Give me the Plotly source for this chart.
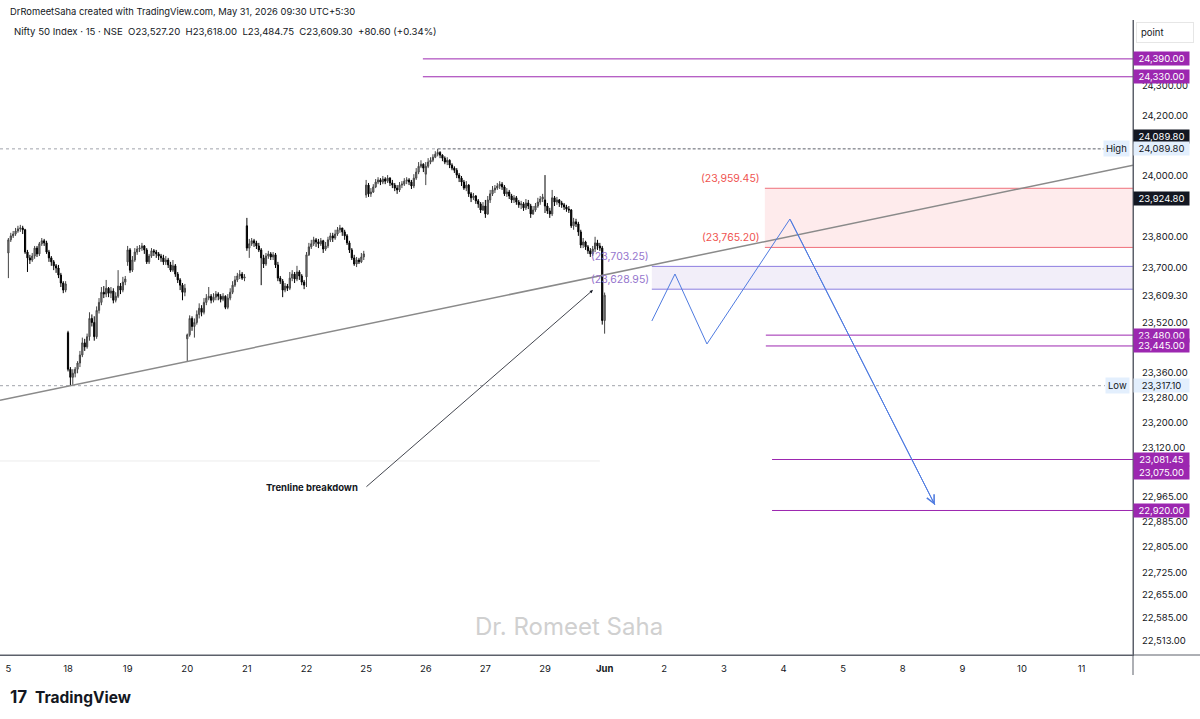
import math
import numpy as np
import plotly.graph_objects as go

# ---------------- DATA (Nifty 50, 15-minute bars) ----------------
day_labels = ["5", "18", "19", "20", "21", "22", "25", "26", "27", "29", "<b>Jun</b>"]
future_labels = ["2", "3", "4", "5", "8", "9", "10", "11"]
BARS_PER_DAY = 25

day_open = [23747, 23488, 23718, 23468, 23836, 23669, 23937, 24006, 23901, 23921, 23527.20]

close_15 = [23790, 23803, 23809, 23819, 23826, 23829, 23823, 23750, 23731, 23724, 23737, 23763, 23744,
            23777, 23787, 23780, 23750, 23731, 23718, 23705, 23698, 23675, 23649, 23626, 23646]
high_15 = [23796, 23813, 23819, 23829, 23836, 23839, 23836, 23826, 23757, 23741, 23747, 23770, 23770,
           23783, 23796, 23793, 23787, 23757, 23737, 23724, 23711, 23708, 23682, 23655, 23655]
low_15 = [23665, 23783, 23796, 23803, 23813, 23816, 23809, 23744, 23685, 23711, 23718, 23728, 23734,
          23737, 23770, 23770, 23744, 23718, 23705, 23691, 23682, 23665, 23636, 23616, 23619]

close_18 = [23370, 23344, 23357, 23370, 23390, 23416, 23455, 23442, 23475, 23534, 23521, 23475, 23560,
            23586, 23619, 23613, 23632, 23616, 23623, 23593, 23606, 23639, 23626, 23652, 23662]
high_18 = [23494, 23377, 23370, 23377, 23396, 23429, 23472, 23468, 23485, 23554, 23547, 23541, 23573,
           23600, 23636, 23639, 23659, 23636, 23636, 23632, 23619, 23691, 23649, 23669, 23672]
low_18 = [23363, 23317.10, 23320, 23344, 23357, 23377, 23409, 23429, 23436, 23462, 23508, 23462, 23468,
          23550, 23577, 23600, 23603, 23603, 23600, 23583, 23586, 23600, 23613, 23619, 23642]

close_19 = [23757, 23691, 23724, 23750, 23760, 23763, 23770, 23757, 23718, 23737, 23754, 23750, 23744,
            23737, 23731, 23718, 23724, 23708, 23691, 23705, 23678, 23659, 23642, 23619, 23632]
high_19 = [23770, 23763, 23737, 23763, 23770, 23773, 23780, 23773, 23763, 23744, 23763, 23760, 23757,
           23750, 23744, 23741, 23737, 23731, 23718, 23724, 23711, 23685, 23665, 23649, 23646]
low_19 = [23705, 23682, 23685, 23718, 23741, 23750, 23754, 23744, 23711, 23711, 23731, 23737, 23731,
          23724, 23718, 23708, 23708, 23698, 23685, 23685, 23669, 23649, 23626, 23593, 23606]

close_20 = [23481, 23534, 23508, 23521, 23547, 23567, 23554, 23586, 23600, 23606, 23593, 23603, 23613,
            23606, 23596, 23606, 23570, 23600, 23619, 23642, 23659, 23672, 23678, 23665, 23669]
high_20 = [23485, 23544, 23541, 23534, 23560, 23583, 23577, 23600, 23613, 23636, 23613, 23616, 23623,
           23619, 23613, 23616, 23609, 23613, 23632, 23655, 23672, 23682, 23691, 23685, 23678]
low_20 = [23396, 23475, 23494, 23472, 23514, 23534, 23541, 23547, 23577, 23593, 23583, 23586, 23593,
          23593, 23586, 23590, 23564, 23564, 23593, 23613, 23636, 23652, 23662, 23659, 23655]

close_21 = [23763, 23777, 23787, 23780, 23770, 23757, 23731, 23711, 23737, 23744, 23734, 23741, 23708,
            23665, 23655, 23626, 23639, 23632, 23665, 23678, 23662, 23685, 23672, 23652, 23642]
high_21 = [23862, 23793, 23796, 23793, 23787, 23780, 23763, 23741, 23747, 23754, 23750, 23750, 23747,
           23718, 23672, 23662, 23649, 23646, 23685, 23691, 23685, 23705, 23691, 23678, 23659]
low_21 = [23754, 23731, 23770, 23767, 23760, 23750, 23642, 23698, 23705, 23728, 23724, 23724, 23698,
          23655, 23646, 23603, 23619, 23623, 23626, 23655, 23649, 23655, 23659, 23642, 23629]

close_22 = [23741, 23767, 23777, 23790, 23783, 23777, 23787, 23760, 23770, 23790, 23803, 23796, 23809,
            23823, 23829, 23816, 23803, 23780, 23757, 23731, 23711, 23724, 23718, 23734, 23744]
high_22 = [23750, 23780, 23790, 23800, 23796, 23793, 23796, 23790, 23783, 23800, 23813, 23813, 23823,
           23832, 23839, 23829, 23823, 23809, 23787, 23763, 23741, 23734, 23731, 23747, 23754]
low_22 = [23636, 23737, 23760, 23770, 23767, 23763, 23770, 23747, 23754, 23763, 23783, 23783, 23790,
          23803, 23813, 23803, 23790, 23773, 23747, 23724, 23705, 23701, 23711, 23714, 23724]

close_25 = [23970, 23941, 23947, 23964, 23980, 23987, 23980, 23990, 23983, 23993, 23977, 23970, 23960,
            23954, 23970, 23973, 23983, 23987, 23980, 23967, 23993, 24013, 24032, 24039, 24026]
high_25 = [23987, 23977, 23960, 23973, 23990, 23996, 23993, 24000, 23996, 24003, 23996, 23987, 23977,
           23970, 23980, 23983, 23993, 23996, 23993, 23987, 24006, 24026, 24046, 24052, 24042]
low_25 = [23928, 23931, 23931, 23944, 23960, 23973, 23970, 23973, 23973, 23977, 23967, 23960, 23950,
          23941, 23947, 23960, 23967, 23973, 23970, 23957, 23960, 23987, 24006, 24026, 24013]

close_26 = [24032, 24046, 24052, 24062, 24072, 24078, 24069, 24059, 24046, 24052, 24036, 24026, 24019,
            24003, 23993, 23980, 23960, 23970, 23941, 23928, 23934, 23918, 23908, 23888, 23901]
high_26 = [24046, 24059, 24062, 24072, 24082, 24089.80, 24082, 24072, 24065, 24062, 24055, 24042, 24032,
           24026, 24010, 24000, 23987, 23983, 23973, 23947, 23944, 23937, 23924, 23914, 23914]
low_26 = [23970, 24026, 24039, 24046, 24059, 24065, 24059, 24049, 24039, 24036, 24026, 24019, 24010,
          23993, 23980, 23967, 23954, 23950, 23931, 23914, 23921, 23908, 23895, 23878, 23885]

close_27 = [23875, 23921, 23941, 23954, 23960, 23967, 23973, 23964, 23941, 23947, 23934, 23921, 23928,
            23914, 23905, 23908, 23895, 23911, 23901, 23875, 23888, 23901, 23914, 23924, 23931]
high_27 = [23921, 23934, 23954, 23967, 23970, 23977, 23983, 23980, 23970, 23960, 23954, 23941, 23937,
           23934, 23921, 23918, 23914, 23924, 23921, 23908, 23901, 23911, 23928, 23934, 23941]
low_27 = [23862, 23872, 23911, 23934, 23944, 23954, 23957, 23954, 23934, 23931, 23924, 23911, 23911,
          23905, 23895, 23891, 23885, 23888, 23891, 23862, 23872, 23882, 23895, 23905, 23914]

close_29 = [23901, 23885, 23875, 23928, 23914, 23921, 23911, 23905, 23898, 23891, 23888, 23836, 23849,
            23842, 23816, 23773, 23783, 23767, 23754, 23744, 23760, 23780, 23770, 23763, 23527.20]
high_29 = [24003, 23911, 23895, 23954, 23934, 23931, 23924, 23918, 23911, 23905, 23901, 23891, 23862,
           23859, 23849, 23823, 23796, 23787, 23773, 23763, 23770, 23800, 23790, 23780, 23770]
low_29 = [23878, 23875, 23862, 23868, 23901, 23905, 23898, 23895, 23888, 23882, 23878, 23829, 23823,
          23832, 23803, 23763, 23763, 23757, 23744, 23734, 23737, 23750, 23757, 23754, 23514]

close_jun1 = [23609.30]
high_jun1 = [23618.00]
low_jun1 = [23484.75]

# drawn levels / annotations
HIGH_LEVEL = 24089.80
LOW_LEVEL = 23317.10
purple_levels = [24390.00, 24330.00, 23480.00, 23445.00, 23081.45, 22920.00]
purple_start_bar = [173.8, 173.8, 317.6, 317.6, 320.2, 320.2]
red_zone = [23765.20, 23959.45]
red_zone_start = 317.2
blue_zone = [23628.95, 23703.25]
blue_zone_start = 269.8
proj_bars = [269.8, 279.5, 292.9, 327.7, 388.5]
proj_prices = [23525.7, 23678.4, 23451.4, 23858.3, 22937.4]
trend_anchor_bars = [26, 400]
trend_anchor_prices = [23317.10, 23919.0]
breakdown_head = (245.1, 23626.3)
breakdown_tail = (149.5, 22991.1)
faint_level = 23076.7

ytick_vals = [24300, 24200, 24000, 23800, 23700, 23609.30, 23520, 23360, 23280, 23200,
              23120, 22965, 22885, 22805, 22725, 22655, 22585, 22513]

X_RANGE = [-3.52, 471.55]
Y_RANGE = [22468.6, 24520.9]
X_END = X_RANGE[1] + 5

# ---------------- BUILD ----------------
closes_by_day = [close_15, close_18, close_19, close_20, close_21, close_22, close_25, close_26, close_27,
                 close_29, close_jun1]
highs_by_day = [high_15, high_18, high_19, high_20, high_21, high_22, high_25, high_26, high_27, high_29,
                high_jun1]
lows_by_day = [low_15, low_18, low_19, low_20, low_21, low_22, low_25, low_26, low_27, low_29, low_jun1]

X, O, H, L, C = [], [], [], [], []
for d, (cl, hi, lo) in enumerate(zip(closes_by_day, highs_by_day, lows_by_day)):
    opens = [day_open[d]] + cl[:-1]
    for k in range(len(cl)):
        X.append(d * BARS_PER_DAY + k)
        O.append(opens[k]); H.append(hi[k]); L.append(lo[k]); C.append(cl[k])

lg = math.log10
FONT = "Inter, Roboto, Arial, sans-serif"
PURPLE = "#9c27b0"
TXT = "#131722"

fig = go.Figure()


def hline(x0, x1, p, color, width=1, dash="solid"):
    fig.add_trace(go.Scatter(x=[x0, x1], y=[p, p], mode="lines", line=dict(color=color, width=width, dash=dash),
                             showlegend=False, hoverinfo="skip"))


def zone(x0, x1, p0, p1, fill, edge):
    fig.add_trace(go.Scatter(x=[x0, x1, x1, x0, x0], y=[p0, p0, p1, p1, p0], mode="lines", fill="toself",
                             fillcolor=fill, line=dict(width=0), showlegend=False, hoverinfo="skip"))
    hline(x0, x1, p0, edge)
    hline(x0, x1, p1, edge)


# zones (behind everything)
zone(red_zone_start, X_END, red_zone[0], red_zone[1], "rgba(242,54,69,0.10)", "#ef6f7b")
zone(blue_zone_start, X_END, blue_zone[0], blue_zone[1], "rgba(126,87,194,0.10)", "#8c7ee0")

# faint level line under price
hline(X_RANGE[0], 248, faint_level, "#ececec")
# high / low lines
hline(X_RANGE[0], 180, HIGH_LEVEL, "#a0a3ab", dash="dot")
hline(180, 459.8, HIGH_LEVEL, "#5d606b", dash="3px,2px")
hline(X_RANGE[0], 459.8, LOW_LEVEL, "#a0a3ab", dash="dot")
# purple levels
for p, s in zip(purple_levels, purple_start_bar):
    hline(s, X_END, p, PURPLE)

fig.add_trace(go.Candlestick(
    x=X, open=O, high=H, low=L, close=C,
    increasing=dict(line=dict(color="#444444", width=1), fillcolor="#959595"),
    decreasing=dict(line=dict(color="#000000", width=1), fillcolor="#000000"),
    whiskerwidth=0, showlegend=False, hoverinfo="skip"))

# trend line (straight on the log scale)
lx = np.array(X_RANGE)
slope = (math.log(trend_anchor_prices[1]) - math.log(trend_anchor_prices[0])) / (trend_anchor_bars[1] - trend_anchor_bars[0])
ly = np.exp(math.log(trend_anchor_prices[0]) + (lx - trend_anchor_bars[0]) * slope)
fig.add_trace(go.Scatter(x=lx, y=ly, mode="lines", line=dict(color="#8a8a8a", width=1.5),
                         showlegend=False, hoverinfo="skip"))

# projection path
fig.add_trace(go.Scatter(x=proj_bars, y=proj_prices, mode="lines", line=dict(color="#4f7be0", width=1),
                         showlegend=False, hoverinfo="skip"))

ann = []


def axis_tag(price, text, bg, fg, yshift=0):
    ann.append(dict(xref="paper", yref="y", x=1, y=lg(price), xanchor="left", yanchor="middle",
                    text=text, showarrow=False, bgcolor=bg, font=dict(color=fg, size=9.5, family=FONT),
                    borderpad=1, width=53, align="center", yshift=yshift))


for p in purple_levels:
    axis_tag(p, f"{p:,.2f}", PURPLE, "white")
axis_tag(23075.00, "23,075.00", PURPLE, "white", yshift=-11)
axis_tag(HIGH_LEVEL, f"{HIGH_LEVEL:,.2f}", TXT, "white", yshift=12)
axis_tag(23924.80, "23,924.80", TXT, "white")
axis_tag(HIGH_LEVEL, f"{HIGH_LEVEL:,.2f}", "#e3effd", TXT)
axis_tag(LOW_LEVEL, f"{LOW_LEVEL:,.2f}", "#e3effd", TXT)
for p, t in [(HIGH_LEVEL, "High"), (LOW_LEVEL, "Low")]:
    ann.append(dict(xref="paper", yref="y", x=1, y=lg(p), xanchor="right", yanchor="middle", xshift=-3,
                    text=t, showarrow=False, bgcolor="#e3effd", font=dict(color=TXT, size=9.5, family=FONT),
                    borderpad=2))

# zone labels
for p in red_zone:
    ann.append(dict(xref="x", yref="y", x=red_zone_start, y=lg(p), xanchor="right", yanchor="bottom",
                    xshift=-3, yshift=1, text=f"({p:,.2f})", showarrow=False,
                    font=dict(color="#ef5350", size=10.5, family=FONT)))
for p in blue_zone:
    ann.append(dict(xref="x", yref="y", x=blue_zone_start, y=lg(p), xanchor="right", yanchor="bottom",
                    xshift=-1, yshift=1, text=f"({p:,.2f})", showarrow=False,
                    font=dict(color="#9575cd", size=10.5, family=FONT)))

# projection arrow head
ann.append(dict(xref="x", yref="y", axref="x", ayref="y", x=proj_bars[-1], y=lg(proj_prices[-1]),
                ax=proj_bars[-2], ay=lg(proj_prices[-2]), text="", showarrow=True, arrowhead=5,
                arrowsize=1.6, arrowwidth=1, arrowcolor="#4f7be0"))

# breakdown arrow + label
ann.append(dict(xref="x", yref="y", axref="x", ayref="y", x=breakdown_head[0], y=lg(breakdown_head[1]),
                ax=breakdown_tail[0], ay=lg(breakdown_tail[1]), text="", showarrow=True, arrowhead=2,
                arrowsize=0.8, arrowwidth=0.8, arrowcolor=TXT))
ann.append(dict(xref="x", yref="y", x=127.3, y=lg(breakdown_tail[1]), xanchor="center", yanchor="middle",
                text="<b>Trenline breakdown</b>", showarrow=False,
                font=dict(color=TXT, size=9.5, family=FONT)))

# header texts
ann.append(dict(xref="paper", yref="paper", x=8 / 1133, y=(655 - 11) / 635, xanchor="left", yanchor="middle",
                text="DrRomeetSaha created with TradingView.com, May 31, 2026 09:30 UTC+5:30",
                showarrow=False, font=dict(color=TXT, size=9.4, family=FONT)))
ann.append(dict(xref="paper", yref="paper", x=12 / 1133, y=(655 - 31) / 635, xanchor="left", yanchor="middle",
                text="Nifty 50 Index · 15 · NSE  O23,527.20  H23,618.00  L23,484.75  C23,609.30  +80.60 (+0.34%)",
                showarrow=False, font=dict(color=TXT, size=9.6, family=FONT)))
ann.append(dict(xref="paper", yref="paper", x=1136 / 1133, y=(655 - 32) / 635, xanchor="left", yanchor="middle",
                text="point", showarrow=False, font=dict(color=TXT, size=9.5, family=FONT),
                bordercolor="#e6e6e6", borderwidth=1, borderpad=4, width=48, align="left"))
# watermark
ann.append(dict(xref="paper", yref="paper", x=569 / 1133, y=(655 - 626) / 635, xanchor="center", yanchor="middle",
                text="Dr. Romeet Saha", showarrow=False, font=dict(color="#d0d0d0", size=24, family=FONT)))
# logo
ann.append(dict(xref="paper", yref="paper", x=8 / 1133, y=(655 - 697) / 635, xanchor="left", yanchor="middle",
                text="<b>17</b>", showarrow=False, font=dict(color=TXT, size=17, family=FONT)))
ann.append(dict(xref="paper", yref="paper", x=33 / 1133, y=(655 - 697) / 635, xanchor="left", yanchor="middle",
                text="<b>TradingView</b>", showarrow=False, font=dict(color=TXT, size=15.5, family=FONT)))

# frame extensions (paper-referenced)
shapes = [
    dict(type="line", xref="paper", yref="paper", x0=1, x1=1, y0=-0.0315, y1=1,
         line=dict(color="#5d606b", width=1)),
    dict(type="line", xref="paper", yref="paper", x0=0, x1=1.06, y0=0, y1=0,
         line=dict(color="#5d606b", width=1)),
]

tick_vals_x = [i * BARS_PER_DAY for i in range(len(day_labels) + len(future_labels))]
tick_text_x = day_labels + future_labels

fig.update_layout(
    width=1200, height=719,
    margin=dict(l=0, r=67, t=20, b=64),
    paper_bgcolor="white", plot_bgcolor="white",
    showlegend=False,
    annotations=ann, shapes=shapes,
    font=dict(family=FONT, color=TXT, size=10),
    xaxis=dict(range=X_RANGE, rangeslider=dict(visible=False), showgrid=False, zeroline=False,
               tickmode="array", tickvals=tick_vals_x, ticktext=tick_text_x, ticks="",
               showline=True, linecolor="#5d606b", linewidth=1,
               tickfont=dict(size=9.5, color=TXT), ticklabelstandoff=5, fixedrange=True),
    yaxis=dict(type="log", range=[lg(Y_RANGE[0]), lg(Y_RANGE[1])], side="right", showgrid=False,
               zeroline=False, tickmode="array", tickvals=ytick_vals,
               ticktext=[f"{v:,.2f}" for v in ytick_vals], ticks="",
               showline=True, linecolor="#5d606b", linewidth=1,
               tickfont=dict(size=9.5, color=TXT), ticklabelstandoff=6, fixedrange=True),
)

fig.write_html("out.html")
